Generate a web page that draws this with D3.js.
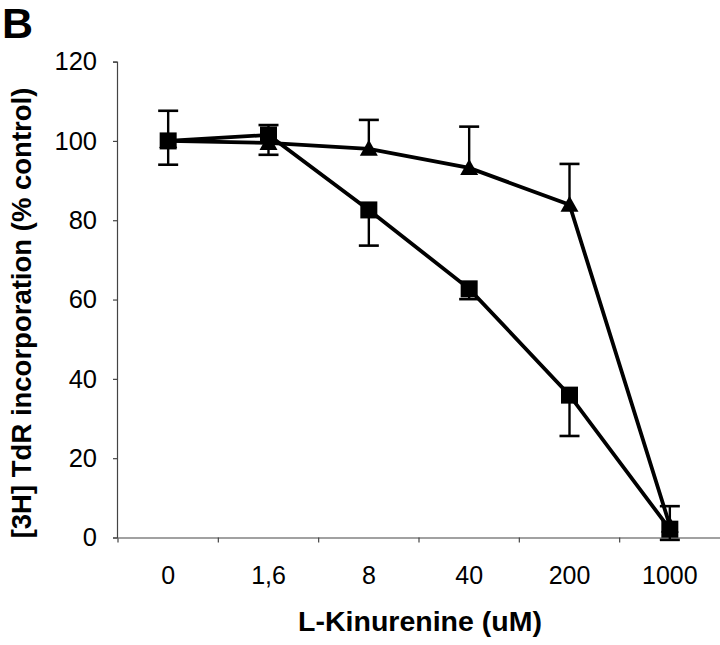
<!DOCTYPE html>
<html>
<head>
<meta charset="utf-8">
<script src="https://cdn.jsdelivr.net/npm/d3@7"></script>
<style>
  body { margin: 0; background: #fff; }
  svg { display: block; }
</style>
</head>
<body>
<svg id="chart" width="720" height="645"></svg>
<script>
// ---- data ----
const categories = ["0", "1,6", "8", "40", "200", "1000"];
const squareValues = [100, 101.5, 82.6, 62.7, 35.9, 2.1];
const squareErrors = [6, 5, 9, 2.6, 10.3, 2.7];     // drawn downward
const triangleValues = [100, 99.5, 98, 93.2, 83.9, 3];
const triangleErrors = [7.6, 4.5, 7.3, 10.4, 10.3, 4.9]; // drawn upward
const yTicks = [0, 20, 40, 60, 80, 100, 120];

// ---- layout ----
const svg = d3.select("#chart");
const x = d3.scaleBand().domain(categories).range([118, 720]).padding(0);
const y = d3.scaleLinear().domain([0, 120]).range([537.5, 61.6]);
const font = "'Liberation Sans', Arial, sans-serif";
const axisColor = "#444";

// y axis
const yAxis = svg.append("g").attr("transform", "translate(117,0)")
  .call(d3.axisLeft(y).tickValues(yTicks).tickSize(4).tickPadding(16).tickFormat(d3.format("d")));
yAxis.select(".domain").attr("stroke", axisColor).attr("stroke-width", 1.2);
yAxis.selectAll(".tick line").attr("stroke", axisColor).attr("stroke-width", 1.2);
yAxis.selectAll("text").attr("font-family", font).attr("font-size", 25.5).attr("fill", "#000");

// x axis with ticks between categories
const xAxis = svg.append("g").attr("transform", "translate(0,537.5)")
  .call(d3.axisBottom(x).tickSize(0).tickPadding(29).tickSizeOuter(0));
xAxis.select(".domain").attr("stroke", axisColor).attr("stroke-width", 1.2);
xAxis.selectAll("text").attr("font-family", font).attr("font-size", 25).attr("fill", "#000");
// separator ticks at band boundaries
const boundaries = categories.slice(0, -1).map(c => x(c) + x.bandwidth());
xAxis.selectAll(".sep").data([x(categories[0])].concat(boundaries)).enter().append("line")
  .attr("x1", d => d).attr("x2", d => d).attr("y1", 0).attr("y2", 5)
  .attr("stroke", axisColor).attr("stroke-width", 1.2);

const cx = c => x(c) + x.bandwidth() / 2;

// lines
const line = d3.line().x((d, i) => cx(categories[i])).y(d => y(d));
svg.append("path").datum(triangleValues).attr("d", line)
  .attr("fill", "none").attr("stroke", "#000").attr("stroke-width", 3.8);
svg.append("path").datum(squareValues).attr("d", line)
  .attr("fill", "none").attr("stroke", "#000").attr("stroke-width", 3.8);

// error bars
function errorBars(values, errors, dir) {
  const g = svg.append("g");
  values.forEach((v, i) => {
    const xc = cx(categories[i]);
    const yEnd = y(v + dir * errors[i]);
    g.append("line").attr("x1", xc).attr("x2", xc).attr("y1", y(v)).attr("y2", yEnd)
      .attr("stroke", "#000").attr("stroke-width", 2.4);
    g.append("line").attr("x1", xc - 10).attr("x2", xc + 10).attr("y1", yEnd).attr("y2", yEnd)
      .attr("stroke", "#000").attr("stroke-width", 2.6);
  });
}
errorBars(triangleValues, triangleErrors, 1);
errorBars(squareValues, squareErrors, -1);

// markers
svg.append("g").selectAll("path").data(triangleValues).enter().append("path")
  .attr("transform", (d, i) => `translate(${cx(categories[i])},${y(d)})`)
  .attr("d", "M0,-9L9,7L-9,7Z").attr("fill", "#000");
svg.append("g").selectAll("rect").data(squareValues).enter().append("rect")
  .attr("x", (d, i) => cx(categories[i]) - 8.5).attr("y", d => y(d) - 8.5)
  .attr("width", 17).attr("height", 17).attr("fill", "#000");

// titles
svg.append("text").attr("x", 2).attr("y", 38).text("B")
  .attr("font-family", font).attr("font-weight", "bold").attr("font-size", 43);
svg.append("text").attr("x", 420).attr("y", 631).attr("text-anchor", "middle")
  .text("L-Kinurenine (uM)")
  .attr("font-family", font).attr("font-weight", "bold").attr("font-size", 28.5);
svg.append("text").attr("transform", "translate(31,313) rotate(-90)").attr("text-anchor", "middle")
  .text("[3H] TdR incorporation (% control)")
  .attr("font-family", font).attr("font-weight", "bold").attr("font-size", 27.5);
</script>
</body>
</html>
